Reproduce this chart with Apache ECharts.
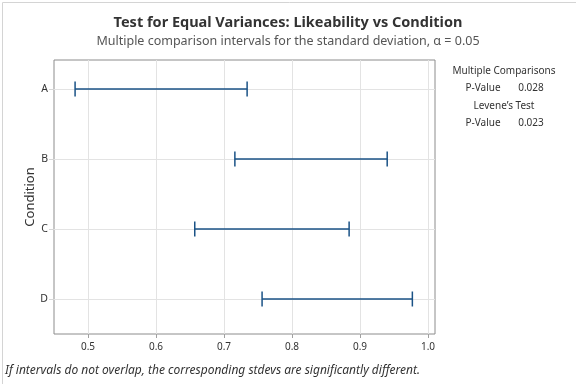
<!DOCTYPE html>
<html>
<head>
<meta charset="utf-8">
<script src="https://cdn.jsdelivr.net/npm/echarts@6/dist/echarts.min.js"></script>
<style>
  html, body { margin: 0; padding: 0; background: #fff; }
  #chart { width: 576px; height: 384px; }
</style>
</head>
<body>
<div id="chart"></div>
<script>
// groups, top to bottom
var conditions = ['A', 'B', 'C', 'D'];
// 95% multiple comparison intervals for the stdev
var lowerBounds = [0.481, 0.716, 0.657, 0.756];
var upperBounds = [0.734, 0.940, 0.884, 0.977];
var xTicks = [0.5, 0.6, 0.7, 0.8, 0.9, 1.0];
var yTicks = [1, 2, 3, 4];

var FONT = 'Noto Sans';
var barColor = '#1a5286';

var chart = echarts.init(document.getElementById('chart'));

var seriesData = conditions.map(function (c, i) {
    return [i + 1, lowerBounds[i], upperBounds[i]];
});

function panelText(x, y, text) {
    return { type: 'text', x: x, y: y,
        style: { text: text, fontSize: 10, fill: '#333', align: 'center', verticalAlign: 'middle', fontFamily: FONT } };
}

chart.setOption({
    animation: false,
    textStyle: { fontFamily: FONT },
    title: [{
        text: 'Test for Equal Variances: Likeability vs Condition',
        left: 'center',
        top: 10,
        textStyle: { fontSize: 14.5, fontWeight: 'bold', color: '#333', fontFamily: FONT }
    }, {
        text: 'Multiple comparison intervals for the standard deviation, \u03b1 = 0.05',
        left: 'center',
        top: 30,
        textStyle: { fontSize: 12.5, fontWeight: 'normal', color: '#555', fontFamily: FONT }
    }],
    grid: {
        left: 54,
        right: 141,
        top: 60,
        bottom: 50,
        show: true,
        borderColor: '#8c8c8c',
        borderWidth: 1
    },
    xAxis: {
        type: 'value',
        min: 0.45,
        max: 1.0103,
        axisLine: { show: false },
        axisTick: { show: true, length: 4, lineStyle: { color: '#a0a0a0' }, customValues: xTicks },
        axisLabel: {
            customValues: xTicks,
            fontSize: 10, color: '#333', margin: 8,
            formatter: function (v) { return v.toFixed(1); }
        },
        splitLine: { show: true, lineStyle: { color: '#e3e3e3' } }
    },
    yAxis: {
        type: 'value',
        inverse: true,
        min: 0.586,
        max: 4.5,
        name: 'Condition',
        nameLocation: 'middle',
        nameGap: 17,
        nameMoveOverlap: false,
        nameTextStyle: { fontSize: 13, color: '#333' },
        axisLine: { show: false },
        axisTick: { show: true, length: 5, lineStyle: { color: '#d6d6d6' }, customValues: yTicks },
        axisLabel: {
            customValues: yTicks,
            fontSize: 10.5, color: '#333', margin: 6,
            formatter: function (v) { return conditions[Math.round(v) - 1] || ''; }
        },
        splitLine: { show: true, lineStyle: { color: '#e3e3e3' } }
    },
    graphic: [
        { type: 'rect', left: 0, top: 0, shape: { width: 575, height: 383 },
          style: { fill: 'none', stroke: '#d4d4d4', lineWidth: 1 }, silent: true },
        panelText(504, 71, 'Multiple Comparisons'),
        panelText(483, 88, 'P-Value'),
        panelText(531, 88, '0.028'),
        panelText(504, 106, 'Levene\u2019s Test'),
        panelText(483, 123, 'P-Value'),
        panelText(531, 123, '0.023'),
        { type: 'text', x: 5, y: 371, style: { text: 'If intervals do not overlap, the corresponding stdevs are significantly different.', fontSize: 12, fontStyle: 'italic', fill: '#333', verticalAlign: 'middle', fontFamily: FONT } }
    ],
    series: [{
        type: 'custom',
        data: seriesData,
        encode: { y: 0, x: [1, 2] },
        renderItem: function (params, api) {
            var y = api.value(0);
            var lo = api.coord([api.value(1), y]);
            var hi = api.coord([api.value(2), y]);
            var half = 7.5;
            var style = { stroke: barColor, lineWidth: 1.5 };
            return {
                type: 'group',
                children: [
                    { type: 'line', shape: { x1: lo[0], y1: lo[1], x2: hi[0], y2: hi[1] }, style: style },
                    { type: 'line', shape: { x1: lo[0], y1: lo[1] - half, x2: lo[0], y2: lo[1] + half }, style: style },
                    { type: 'line', shape: { x1: hi[0], y1: hi[1] - half, x2: hi[0], y2: hi[1] + half }, style: style }
                ]
            };
        }
    }]
});
</script>
</body>
</html>
